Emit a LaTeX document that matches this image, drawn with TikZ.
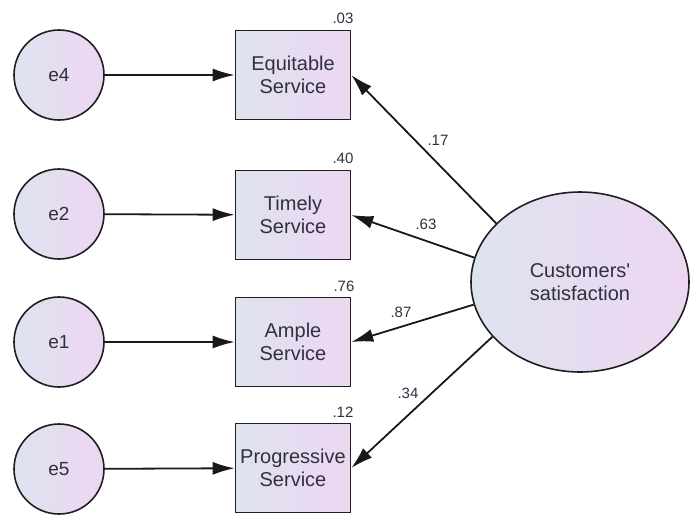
\documentclass[tikz,border=0pt]{standalone}
\usepackage{fontspec}
\setmainfont{Liberation Sans}
\newfontfamily\amosfont{Liberation Sans}
\usepackage{tikz}
\usetikzlibrary{shapes,arrows.meta}

\definecolor{fillleft}{RGB}{222,227,240}
\definecolor{fillright}{RGB}{237,214,241}
\definecolor{inkgray}{RGB}{48,48,62}

\tikzset{
  latent/.style={circle, draw=black!88, line width=1.6pt, minimum size=90pt, inner sep=0pt,
    left color=fillleft, right color=fillright, text=inkgray, font=\amosfont\fontsize{19}{22}\selectfont},
  observed/.style={rectangle, draw=black!88, line width=1.6pt, minimum width=115pt, minimum height=89pt,
    inner sep=2pt, align=center, left color=fillleft, right color=fillright, text=inkgray,
    font=\amosfont\fontsize{20}{23}\selectfont},
  factor/.style={ellipse, draw=black!88, line width=1.6pt, minimum width=218pt, minimum height=180pt,
    align=center, left color=fillleft, right color=fillright, text=inkgray,
    font=\amosfont\fontsize{20}{23}\selectfont},
  regpath/.style={-{Latex[length=22pt,width=13pt]}, line width=1.8pt, black!90},
  coef/.style={font=\amosfont\fontsize{15}{17}\selectfont, text=inkgray, inner sep=0pt}
}

\begin{document}
\begin{tikzpicture}[x=1pt,y=-1pt]
\useasboundingbox (0,0) rectangle (691,515);

\node[latent] (e4) at (59,75) {e4};
\node[latent] (e2) at (59,214) {e2};
\node[latent] (e1) at (59,342) {e1};
\node[latent] (e5) at (59,469) {e5};

\node[observed] (equitable) at (293,75) {Equitable\\Service};
\node[observed] (timely) at (293,215) {Timely\\Service};
\node[observed] (ample) at (293,342) {Ample\\Service};
\node[observed] (progressive) at (293,468) {Progressive\\Service};

\node[factor] (sat) at (580,282) {Customers'\\satisfaction};

\draw[regpath] (e4) -- (equitable);
\draw[regpath] (e2) -- (timely);
\draw[regpath] (e1) -- (ample);
\draw[regpath] (e5) -- (progressive);

\draw[regpath] (sat.145) -- (equitable.east);
\draw[regpath] (sat.167) -- (timely.east);
\draw[regpath] (sat.192) -- (ample.east);
\draw[regpath] (sat.212) -- (progressive.east);

% squared multiple correlations
\node[coef] (r2eq) at (343,18) {.03};
\node[coef] (r2ti) at (343,158) {.40};
\node[coef] (r2am) at (344,286) {.76};
\node[coef] (r2pr) at (343,412) {.12};

% loadings
\node[coef] (w17) at (438,140) {.17};
\node[coef] (w63) at (426,224) {.63};
\node[coef] (w87) at (401,312) {.87};
\node[coef] (w34) at (408,393) {.34};
\end{tikzpicture}
\end{document}
